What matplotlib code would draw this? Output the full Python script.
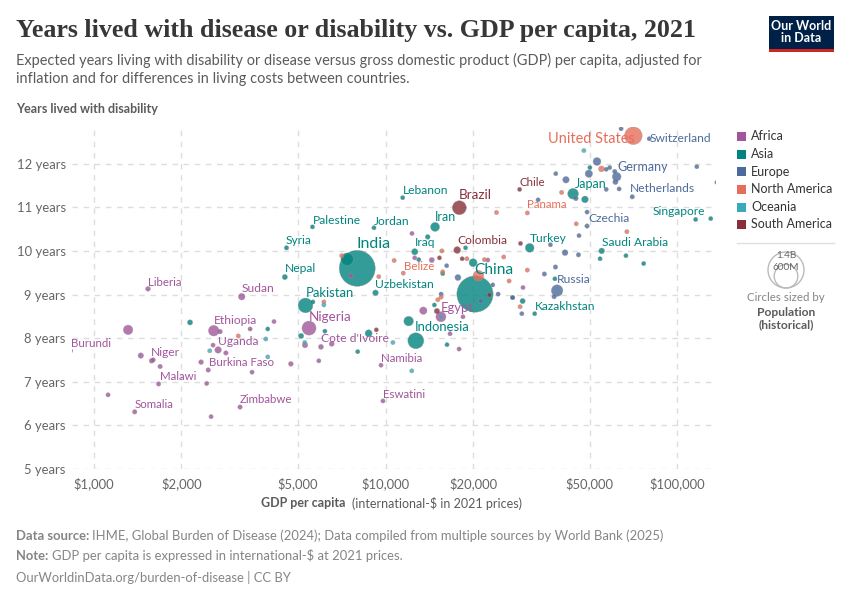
import matplotlib
matplotlib.use("Agg")
import matplotlib.pyplot as plt
from matplotlib.patches import Rectangle, Circle
import numpy as np
import pandas as pd

# values: GDP per capita, years lived with disability, population (millions)
africa_gdp = [1536, 3217, 1313, 2580, 2710, 835, 1451, 1580, 1600, 1690, 1670, 1121, 1383, 2526, 3175, 2440,
              2470, 2335, 2840, 2670, 2566, 3437, 4150, 3490, 4740, 5470, 5300, 6010, 5910, 6540, 9650, 9800,
              13470, 15480, 18420, 16630, 17860, 7610, 12320, 12590, 14400, 22400, 29570]
africa_years = [9.13, 8.95, 8.19, 8.17, 8.15, 7.71, 7.60, 7.48, 7.50, 7.35, 6.95, 6.70, 6.31, 6.20, 6.42, 6.96,
                7.27, 7.45, 7.66, 7.73, 7.84, 8.21, 8.38, 7.22, 7.41, 8.23, 7.84, 7.80, 7.48, 7.87, 7.38, 6.56,
                8.63, 8.49, 8.49, 8.10, 7.75, 9.43, 10.40, 9.84, 9.79, 9.79, 9.16]
africa_pop = [25, 48, 98, 122, 25, 20, 33, 25, 22, 22, 22, 20, 22, 20, 22, 20,
              22, 25, 22, 47, 20, 20, 20, 20, 25, 215, 33, 28, 20, 28, 20, 20,
              60, 110, 20, 20, 20, 20, 20, 20, 30, 20, 20]

asia_gdp = [8000, 20250, 7390, 5320, 4520, 4580, 5620, 9130, 11450, 14780, 13950, 12590, 9240, 12700, 12000,
            8750, 5140, 6200, 8030, 16240, 14700, 5640, 19950, 15700, 2140, 3950, 43900, 48200, 115400, 130000,
            31170, 55000, 66600, 76600, 54300, 32430, 29480, 38030, 18800, 13000, 50120]
asia_years = [9.60, 9.01, 9.81, 8.75, 9.40, 10.07, 10.55, 10.53, 11.22, 10.55, 10.32, 9.98, 9.04, 7.94, 8.39,
              8.11, 8.05, 8.16, 7.69, 7.85, 8.76, 8.83, 9.73, 9.48, 8.36, 8.21, 11.31, 11.18, 10.72, 10.74,
              10.07, 10.00, 9.89, 9.71, 9.82, 8.56, 8.85, 9.36, 10.07, 9.80, 11.91]
asia_pop = [1400, 1425, 170, 235, 30, 22, 20, 20, 20, 88, 25, 44, 35, 275, 100,
            55, 30, 20, 20, 20, 20, 20, 70, 20, 30, 20, 125, 50, 20, 20,
            85, 36, 20, 20, 20, 20, 30, 20, 20, 20, 20]

europe_gdp = [80000, 64100, 61900, 61000, 61300, 53000, 49700, 41500, 38300, 57000, 58600, 57000, 63100, 70000,
              116500, 136500, 33300, 44900, 49000, 49000, 46000, 36700, 41200, 45800, 38200, 35000, 38700,
              37800, 27300, 29300, 17700, 16200, 23300, 24300, 27200, 15500, 21200]
europe_years = [12.57, 12.80, 11.70, 11.82, 11.58, 12.05, 11.77, 11.63, 11.77, 11.87, 11.91, 11.41, 11.42, 11.24,
                11.93, 11.57, 11.17, 11.20, 10.89, 10.57, 10.35, 10.14, 9.96, 9.91, 9.63, 9.47, 9.09,
                8.95, 8.93, 8.56, 9.39, 9.66, 9.22, 9.01, 8.93, 9.01, 8.85]
europe_pop = [20, 20, 83, 22, 30, 68, 60, 47, 20, 20, 20, 20, 20, 22,
              20, 20, 20, 22, 20, 22, 20, 20, 38, 22, 22, 22, 145,
              22, 20, 20, 40, 20, 20, 20, 20, 20, 20]

namerica_gdp = [70600, 30600, 40100, 54900, 45000, 67100, 25400, 30600, 26500, 28900, 24000, 15600, 10700, 11500,
                19000, 21800, 20800, 9480, 15700, 15100, 15500, 6150, 7080, 3130]
namerica_years = [12.64, 10.87, 11.34, 11.88, 10.62, 10.44, 9.86, 9.56, 9.31, 8.72, 10.88, 10.00, 9.78, 9.49,
                  9.82, 9.80, 9.43, 9.41, 9.52, 8.88, 8.94, 8.83, 9.89, 8.05]
namerica_pop = [337, 20, 20, 38, 20, 20, 20, 20, 20, 20, 20, 20, 20, 20,
                20, 20, 125, 20, 20, 20, 20, 20, 20, 20]

oceania_gdp = [47800, 12300, 2500, 3890, 3950, 6150, 5290, 15500, 10600]
oceania_years = [12.30, 7.25, 7.71, 7.98, 7.57, 8.76, 7.90, 8.49, 7.90]
oceania_pop = [20, 20, 20, 20, 20, 20, 20, 20, 20]

samerica_gdp = [17900, 28800, 17600, 29000, 15300, 18300, 15000, 9300, 22700]
samerica_years = [10.99, 11.41, 10.02, 10.17, 9.84, 9.82, 8.62, 8.19, 8.99]
samerica_pop = [212, 20, 52, 20, 20, 20, 33, 20, 20]

continents = ["Africa", "Asia", "Europe", "North America", "Oceania", "South America"]
colors = {"Africa": "#A2559C", "Asia": "#00847E", "Europe": "#4C6A9C",
          "North America": "#E56E5A", "Oceania": "#38AABA", "South America": "#883039"}

xticks = [1000, 2000, 5000, 10000, 20000, 50000, 100000]
xticklabels = ["$1,000", "$2,000", "$5,000", "$10,000", "$20,000", "$50,000", "$100,000"]
yticks = [5, 6, 7, 8, 9, 10, 11, 12]
yticklabels = ["5 years", "6 years", "7 years", "8 years", "9 years", "10 years", "11 years", "12 years"]

# name, continent, left px, middle px, font px
country_labels = [
    ("India", "Asia", 357, 244, 16), ("China", "Asia", 474, 270, 15.5),
    ("United States", "North America", 548, 139, 14.5), ("Brazil", "South America", 459, 195, 13.5),
    ("Lebanon", "Asia", 403, 191, 12), ("Palestine", "Asia", 313, 220, 12), ("Jordan", "Asia", 374, 221, 12),
    ("Iran", "Asia", 435, 217, 12.5), ("Syria", "Asia", 286, 241, 12), ("Iraq", "Asia", 415, 243, 12),
    ("Nepal", "Asia", 285, 269, 12), ("Pakistan", "Asia", 306, 293, 13), ("Uzbekistan", "Asia", 375, 285, 12),
    ("Colombia", "South America", 457, 241, 12), ("Belize", "North America", 404, 266, 11.5),
    ("Nigeria", "Africa", 309, 317, 13.5), ("Ethiopia", "Africa", 214, 320, 12), ("Uganda", "Africa", 218, 342, 12),
    ("Cote d'Ivoire", "Africa", 321, 339, 12), ("Indonesia", "Asia", 415, 327, 13), ("Egypt", "Africa", 441, 308, 13),
    ("Namibia", "Africa", 381, 358, 11.5), ("Eswatini", "Africa", 383, 394, 11.5), ("Liberia", "Africa", 148, 282, 11.5),
    ("Sudan", "Africa", 242, 288, 12), ("Burundi", "Africa", 71, 343.5, 11.5), ("Niger", "Africa", 151, 353, 12),
    ("Malawi", "Africa", 160, 376, 11.5), ("Burkina Faso", "Africa", 209, 362, 11.5), ("Somalia", "Africa", 135, 404, 11.5),
    ("Zimbabwe", "Africa", 240, 399.5, 11.5), ("Chile", "South America", 520, 182.5, 11.5),
    ("Panama", "North America", 527, 205, 11.5), ("Japan", "Asia", 575, 183.5, 12.5), ("Germany", "Europe", 617, 167, 12.5),
    ("Netherlands", "Europe", 630, 188, 12), ("Switzerland", "Europe", 650, 138, 12), ("Singapore", "Asia", 653, 211.5, 12),
    ("Czechia", "Europe", 588, 218, 12), ("Turkey", "Asia", 530, 238, 12), ("Saudi Arabia", "Asia", 602, 242, 12),
    ("Russia", "Europe", 557, 279, 12), ("Kazakhstan", "Asia", 535, 306.5, 12),
]

W, H = 850, 600
plt.rcParams["font.family"] = "Lato"
fig = plt.figure(figsize=(W / 100, H / 100), dpi=100)


def put(px, py, s, size, color="#5b5b5b", **kw):
    # text placed by pixel, size given in pixels
    kw.setdefault("va", "center")
    return fig.text(px / W, 1 - py / H, s, fontsize=size * 0.72, color=color, **kw)


ax = fig.add_axes([72 / W, 1 - 469 / H, (716 - 72) / W, (469 - 127) / H])

frames = [
    pd.DataFrame({"gdp": africa_gdp, "years": africa_years, "pop": africa_pop, "continent": "Africa"}),
    pd.DataFrame({"gdp": asia_gdp, "years": asia_years, "pop": asia_pop, "continent": "Asia"}),
    pd.DataFrame({"gdp": europe_gdp, "years": europe_years, "pop": europe_pop, "continent": "Europe"}),
    pd.DataFrame({"gdp": namerica_gdp, "years": namerica_years, "pop": namerica_pop, "continent": "North America"}),
    pd.DataFrame({"gdp": oceania_gdp, "years": oceania_years, "pop": oceania_pop, "continent": "Oceania"}),
    pd.DataFrame({"gdp": samerica_gdp, "years": samerica_years, "pop": samerica_pop, "continent": "South America"}),
]
df = pd.concat(frames).sort_values("pop", ascending=False)

# largest circle is 18 px radius for 1.4B, area follows population
radius = 18 * np.sqrt(df["pop"] / 1400)
ax.scatter(df["gdp"], df["years"], s=(2 * radius * 0.72) ** 2, c=df["continent"].map(colors),
           alpha=0.8, edgecolors="#999999", linewidths=0.3, zorder=3)

ax.set_xscale("log")
ax.set_xlim(843.6, 135500)
ax.set_ylim(5, 12.84)
ax.set_xticks(xticks)
ax.set_xticklabels(xticklabels)
ax.minorticks_off()
ax.set_yticks(yticks)
ax.set_yticklabels(yticklabels)
ax.grid(True, color="#dddddd", linestyle=(0, (4, 4)), linewidth=1)
ax.set_axisbelow(True)
ax.tick_params(length=0, labelsize=13 * 0.72, labelcolor="#666666")
ax.tick_params(axis="x", pad=6)
ax.tick_params(axis="y", pad=4.5)
for s in ax.spines.values():
    s.set_visible(False)

# header
put(16, 31, "Years lived with disease or disability vs. GDP per capita, 2021", 26,
    color="#373737", family="Liberation Serif", weight="bold")
put(16, 60, "Expected years living with disability or disease versus gross domestic product (GDP) per capita, adjusted for",
    14.5, color="#5b5b5b")
put(16, 79, "inflation and for differences in living costs between countries.", 14.5, color="#5b5b5b")
put(16, 109, "Years lived with disability", 12.5, color="#5b5b5b", weight="bold")

# logo
fig.add_artist(Rectangle((769 / W, 1 - 52 / H), 65 / W, 36 / H, transform=fig.transFigure, color="#002147", lw=0))
fig.add_artist(Rectangle((769 / W, 1 - 52 / H), 65 / W, 3 / H, transform=fig.transFigure, color="#ce261e", lw=0))
put(801.5, 26.5, "Our World", 12.5, color="white", weight="bold", ha="center")
put(801.5, 38.5, "in Data", 12.5, color="white", weight="bold", ha="center")

# country labels
for name, cont, px, py, size in country_labels:
    put(px, py, name, size, color=colors[cont])

# colour legend
legend_y = [136, 154, 171.5, 189, 207, 224]
for cont, py in zip(continents, legend_y):
    fig.add_artist(Rectangle((737 / W, 1 - (py + 4.5) / H), 9 / W, 9 / H, transform=fig.transFigure,
                             color=colors[cont], lw=0))
    put(751, py, cont, 12.5, color="#333333")
fig.add_artist(plt.Line2D([737 / W, 834 / W], [1 - 243 / H, 1 - 243 / H], color="#e0e0e0", lw=1))

# size legend
size_ax = fig.add_axes([0, 0, 1, 1], zorder=-1)
size_ax.set_xlim(0, W)
size_ax.set_ylim(H, 0)
size_ax.axis("off")
size_ax.add_patch(Circle((786, 270), 18, fill=False, ec="#bbbbbb", lw=1))
size_ax.add_patch(Circle((786, 276.2), 11.8, fill=False, ec="#bbbbbb", lw=1))
put(786, 255, "1.4B", 10, color="#666666", ha="center")
put(786, 267, "600M", 10, color="#666666", ha="center")
put(786, 298, "Circles sized by", 11.5, color="#858585", ha="center")
put(786, 312, "Population", 12, color="#5b5b5b", ha="center", weight="bold")
put(786, 324.5, "(historical)", 12, color="#5b5b5b", ha="center", weight="bold")

# x axis title
put(261, 503, "GDP per capita", 12.5, color="#5b5b5b", weight="bold")
put(351.5, 503, "(international-$ in 2021 prices)", 12.5, color="#5b5b5b")

# footer
put(16, 536, "Data source:", 13, color="#858585", weight="bold")
put(92, 536, "IHME, Global Burden of Disease (2024); Data compiled from multiple sources by World Bank (2025)", 13, color="#858585")
put(16, 556, "Note:", 13, color="#858585", weight="bold")
put(52, 556, "GDP per capita is expressed in international-$ at 2021 prices.", 13, color="#858585")
put(16, 577, "OurWorldinData.org/burden-of-disease | CC BY", 13, color="#858585")

fig.savefig("out.png", dpi=100, facecolor="white")
